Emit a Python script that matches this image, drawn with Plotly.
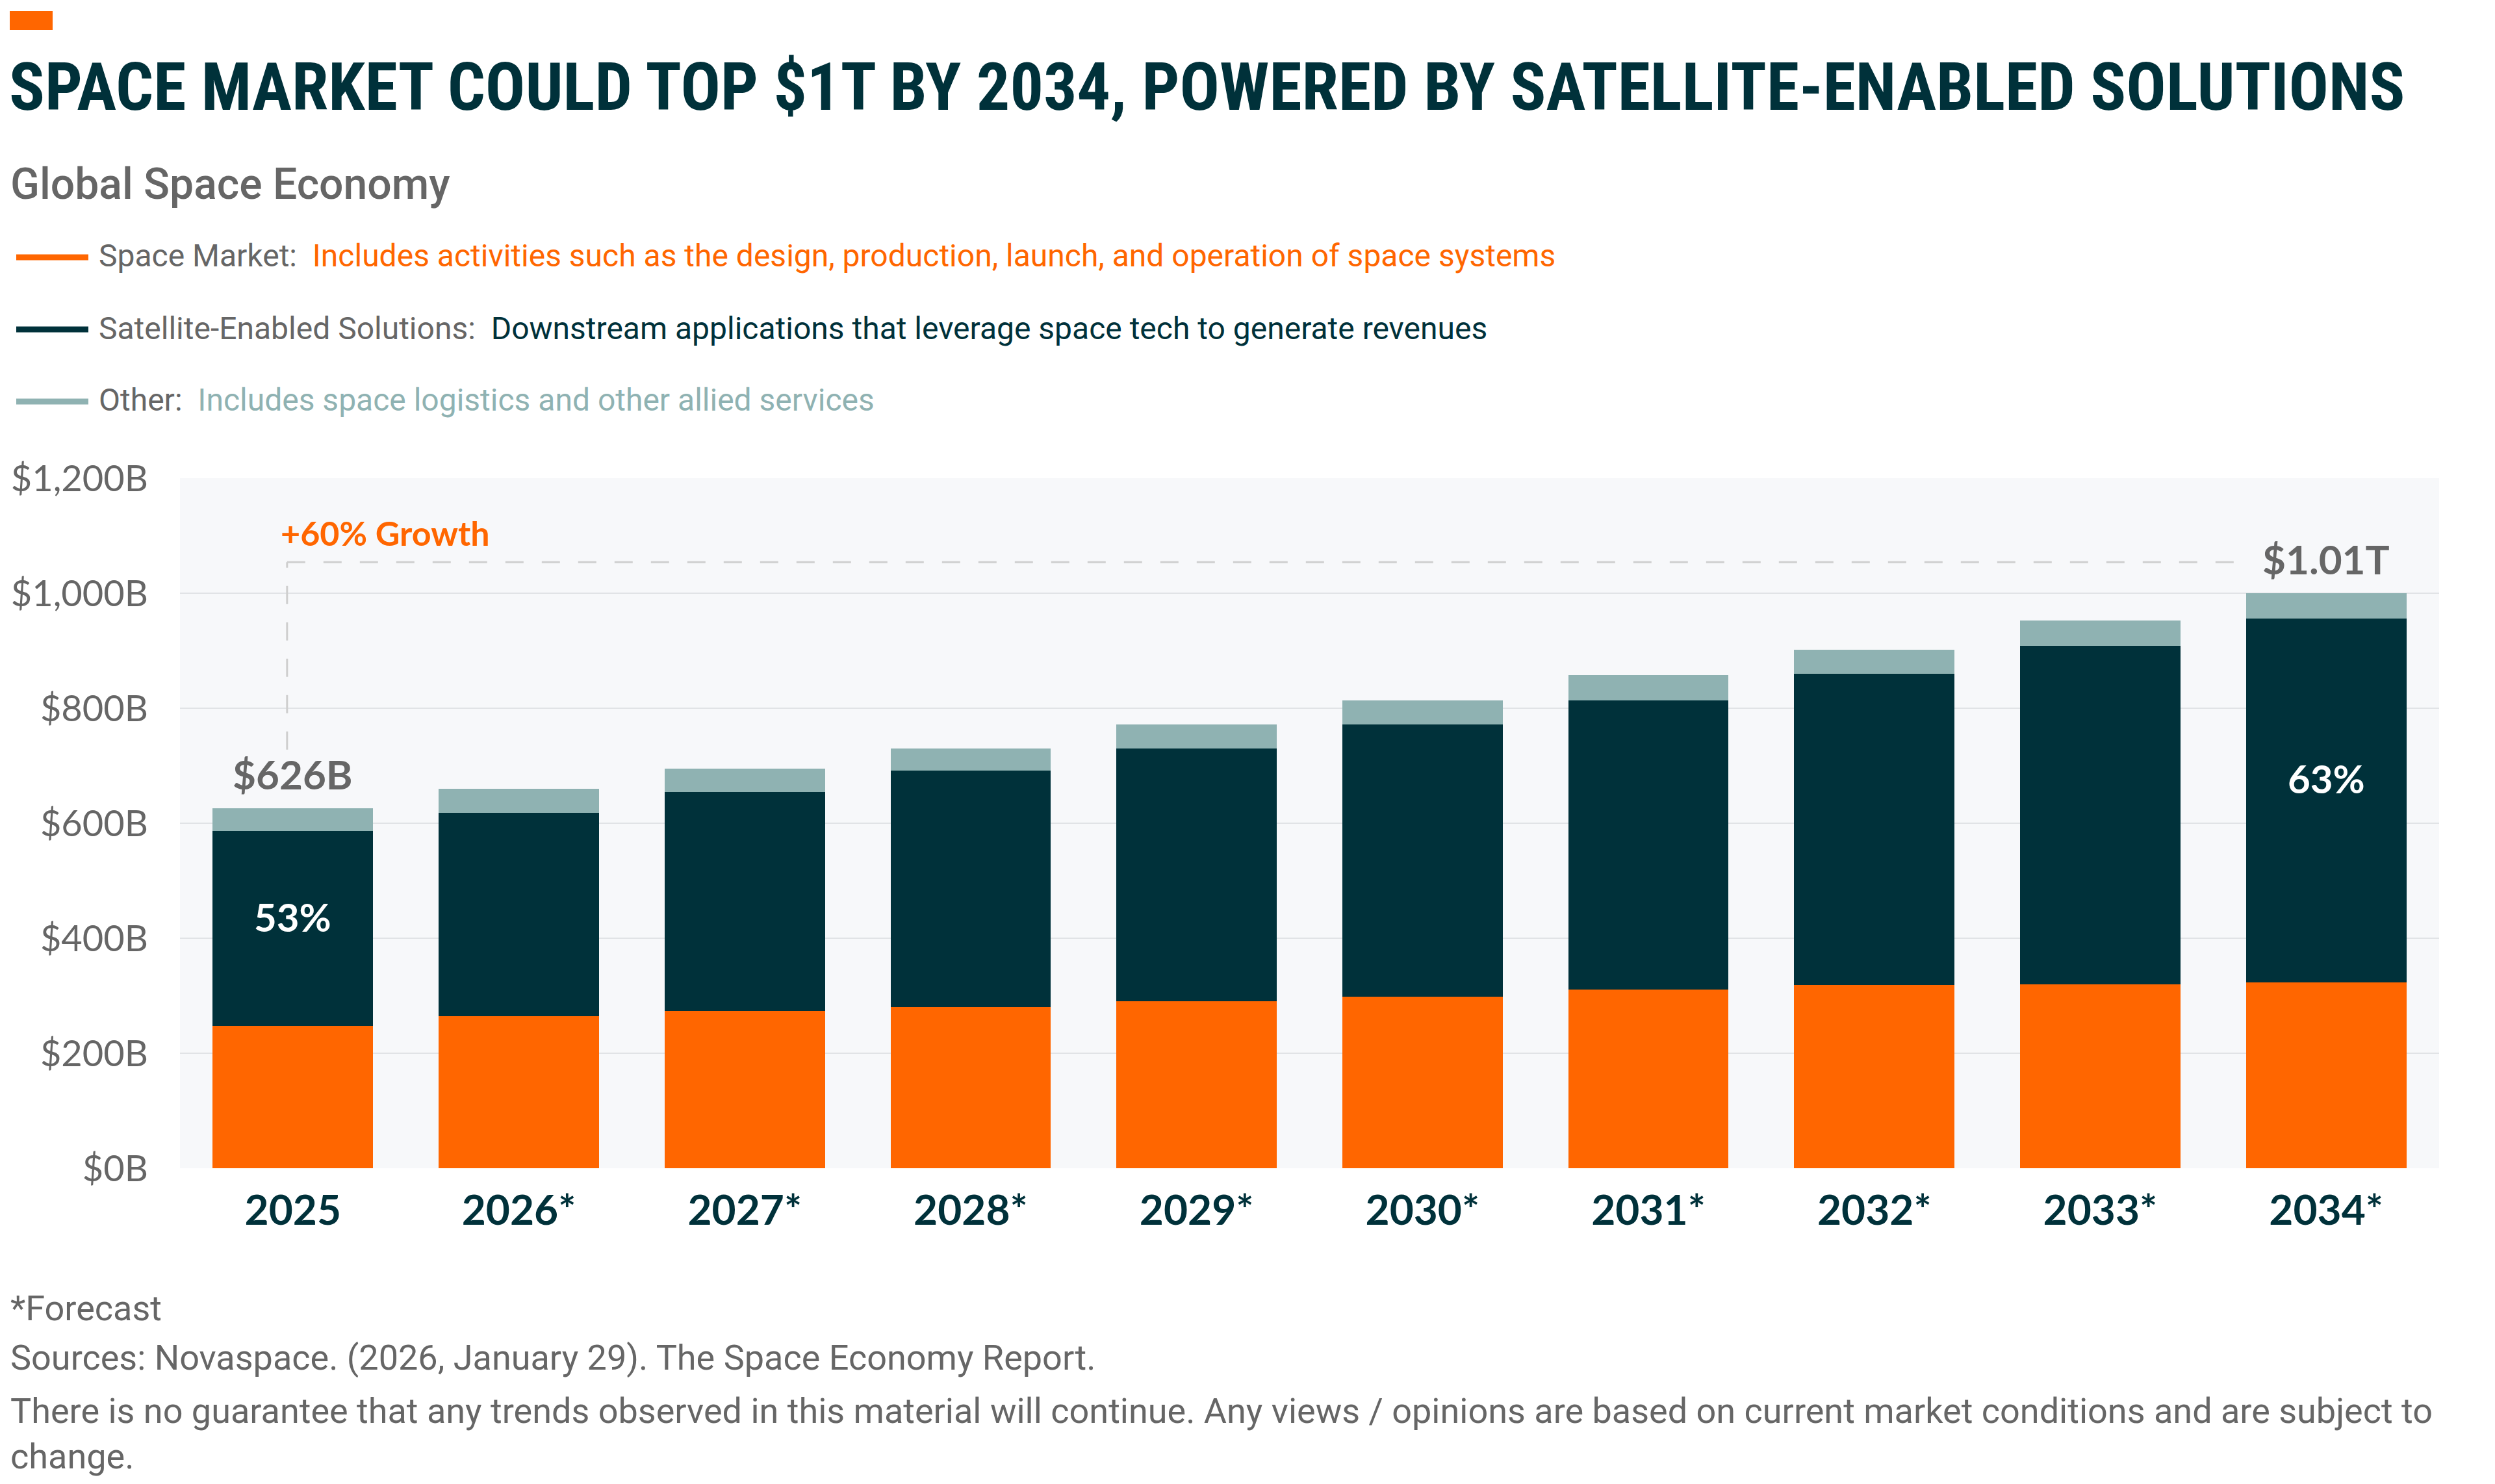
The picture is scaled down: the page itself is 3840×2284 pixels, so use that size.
import plotly.graph_objects as go

# ---------------- data ----------------
years = ["2025", "2026*", "2027*", "2028*", "2029*", "2030*", "2031*", "2032*", "2033*", "2034*"]
space_market = [248, 264, 273, 280, 290, 298, 311, 319, 320, 323]
satellite_solutions = [338, 354, 381, 412, 440, 474, 503, 541, 588, 633]
other = [40, 42, 41, 38, 42, 42, 44, 42, 45, 44]

y_tick_vals = [0, 200, 400, 600, 800, 1000, 1200]
y_tick_text = ["$0B", "$200B", "$400B", "$600B", "$800B", "$1,000B", "$1,200B"]

total_labels = {0: "$626B", 9: "$1.01T"}
share_labels = {0: "53%", 9: "63%"}

series_names = ["Space Market", "Satellite-Enabled Solutions", "Other"]
series_desc = [
    "Includes activities such as the design, production, launch, and operation of space systems",
    "Downstream applications that leverage space tech to generate revenues",
    "Includes space logistics and other allied services",
]

# ---------------- style ----------------
ORANGE = "#FF6600"
DARK = "#00313A"
TEAL = "#8FB2B2"
GRAY = "#666666"
W, H = 3840, 2284
L, R, T, B = 277, 86, 736, 486
PW, PH = W - L - R, H - T - B


def px(xp):
    return (xp - L) / PW


def py(yp):
    return (H - B - yp) / PH


xpos = list(range(len(years)))
totals = [a + b + c for a, b, c in zip(space_market, satellite_solutions, other)]

fig = go.Figure()
for name, vals, col in zip(series_names, [space_market, satellite_solutions, other], [ORANGE, DARK, TEAL]):
    fig.add_trace(go.Bar(x=xpos, y=vals, name=name, marker=dict(color=col, line=dict(width=0)),
                         showlegend=False))

ann = []
shapes = []

# total labels
for i, t in total_labels.items():
    ann.append(dict(x=xpos[i], y=totals[i], xref="x", yref="y", text=t, showarrow=False,
                    yanchor="bottom", yshift=14, font=dict(family="Lato", size=62, color=GRAY, weight="bold")))
# share labels
for i, t in share_labels.items():
    ann.append(dict(x=xpos[i], y=space_market[i] + satellite_solutions[i] * 0.56, xref="x", yref="y",
                    text=t, showarrow=False, yanchor="middle",
                    font=dict(family="Lato", size=60, color="white", weight="bold")))

# growth bracket (dashed)
x_left = xpos[0] - 0.026
y_top = totals[-1] + 54
y_bot = totals[0] + 102
x_right = xpos[-1] - 0.354
shapes.append(dict(type="line", xref="x", yref="y", x0=x_left, x1=x_left, y0=y_bot, y1=y_top,
                   line=dict(color="#CFCFCF", width=3, dash="28px,28px")))
shapes.append(dict(type="line", xref="x", yref="y", x0=x_left, x1=x_right, y0=y_top, y1=y_top,
                   line=dict(color="#CFCFCF", width=3, dash="28px,28px")))
ann.append(dict(x=x_left, y=y_top, xref="x", yref="y", text="+60% Growth", showarrow=False,
                xanchor="left", yanchor="bottom", xshift=-12, yshift=12,
                font=dict(family="Lato", size=52, color=ORANGE, weight="bold")))

# top-left accent
shapes.append(dict(type="rect", xref="paper", yref="paper", x0=px(15), x1=px(81), y0=py(46), y1=py(17),
                   fillcolor=ORANGE, line=dict(width=0)))

# title & subtitle
ann.append(dict(x=px(12), y=py(134), xref="paper", yref="paper", xanchor="left", yanchor="middle",
                text="SPACE MARKET COULD TOP $1T BY 2034, POWERED BY SATELLITE-ENABLED SOLUTIONS",
                showarrow=False, font=dict(family="Liberation Sans Narrow, Roboto Condensed, DejaVu Sans Condensed",
                                           size=102, color=DARK, weight="bold")))
ann.append(dict(x=px(14), y=py(283), xref="paper", yref="paper", xanchor="left", yanchor="middle",
                text="Global Space Economy", showarrow=False,
                font=dict(family="Roboto", size=66, color=GRAY, weight=500)))

# legend rows
row_y = [396, 507, 618]
desc_cols = [ORANGE, DARK, TEAL]
line_cols = [ORANGE, DARK, TEAL]
for name, desc, yy, dc, lc in zip(series_names, series_desc, row_y, desc_cols, line_cols):
    shapes.append(dict(type="line", xref="paper", yref="paper", x0=px(25), x1=px(136), y0=py(yy), y1=py(yy),
                       line=dict(color=lc, width=9)))
    ann.append(dict(x=px(150), y=py(yy - 2), xref="paper", yref="paper", xanchor="left", yanchor="middle",
                    text=f"<span style='color:{GRAY}'>{name}:</span>&nbsp;&nbsp;<span style='color:{dc}'>{desc}</span>",
                    showarrow=False, font=dict(family="Roboto", size=48, color=GRAY)))

# footer
footer = [
    (2013, "*Forecast"),
    (2089, "Sources: Novaspace. (2026, January 29). The Space Economy Report."),
]
for yy, t in footer:
    ann.append(dict(x=px(14), y=py(yy), xref="paper", yref="paper", xanchor="left", yanchor="middle",
                    text=t, showarrow=False, font=dict(family="Roboto", size=54, color=GRAY)))
ann.append(dict(x=px(14), y=py(2138), xref="paper", yref="paper", xanchor="left", yanchor="top", align="left",
                text="There is no guarantee that any trends observed in this material will continue. Any views / opinions are based on current market conditions and are subject to<br>change.",
                showarrow=False, font=dict(family="Roboto", size=54, color=GRAY)))

fig.update_layout(
    width=W, height=H,
    margin=dict(l=L, r=R, t=T, b=B, autoexpand=False),
    paper_bgcolor="white", plot_bgcolor="#F7F8FA",
    barmode="stack", bargap=0.29,
    annotations=ann, shapes=shapes,
    xaxis=dict(range=[-0.5, len(years) - 0.5], tickvals=xpos, ticktext=years, showgrid=False,
               zeroline=False, showline=False, ticks="",
               tickfont=dict(family="Lato", size=64, color=DARK, weight="bold"), ticklabelstandoff=22),
    yaxis=dict(range=[0, 1200], tickvals=y_tick_vals, ticktext=y_tick_text, showgrid=True,
               gridcolor="#E1E3E6", gridwidth=2, zeroline=False, showline=False, ticks="",
               tickfont=dict(family="Lato", size=56, color=GRAY), ticklabelstandoff=48),
)

fig.write_html("out.html")
